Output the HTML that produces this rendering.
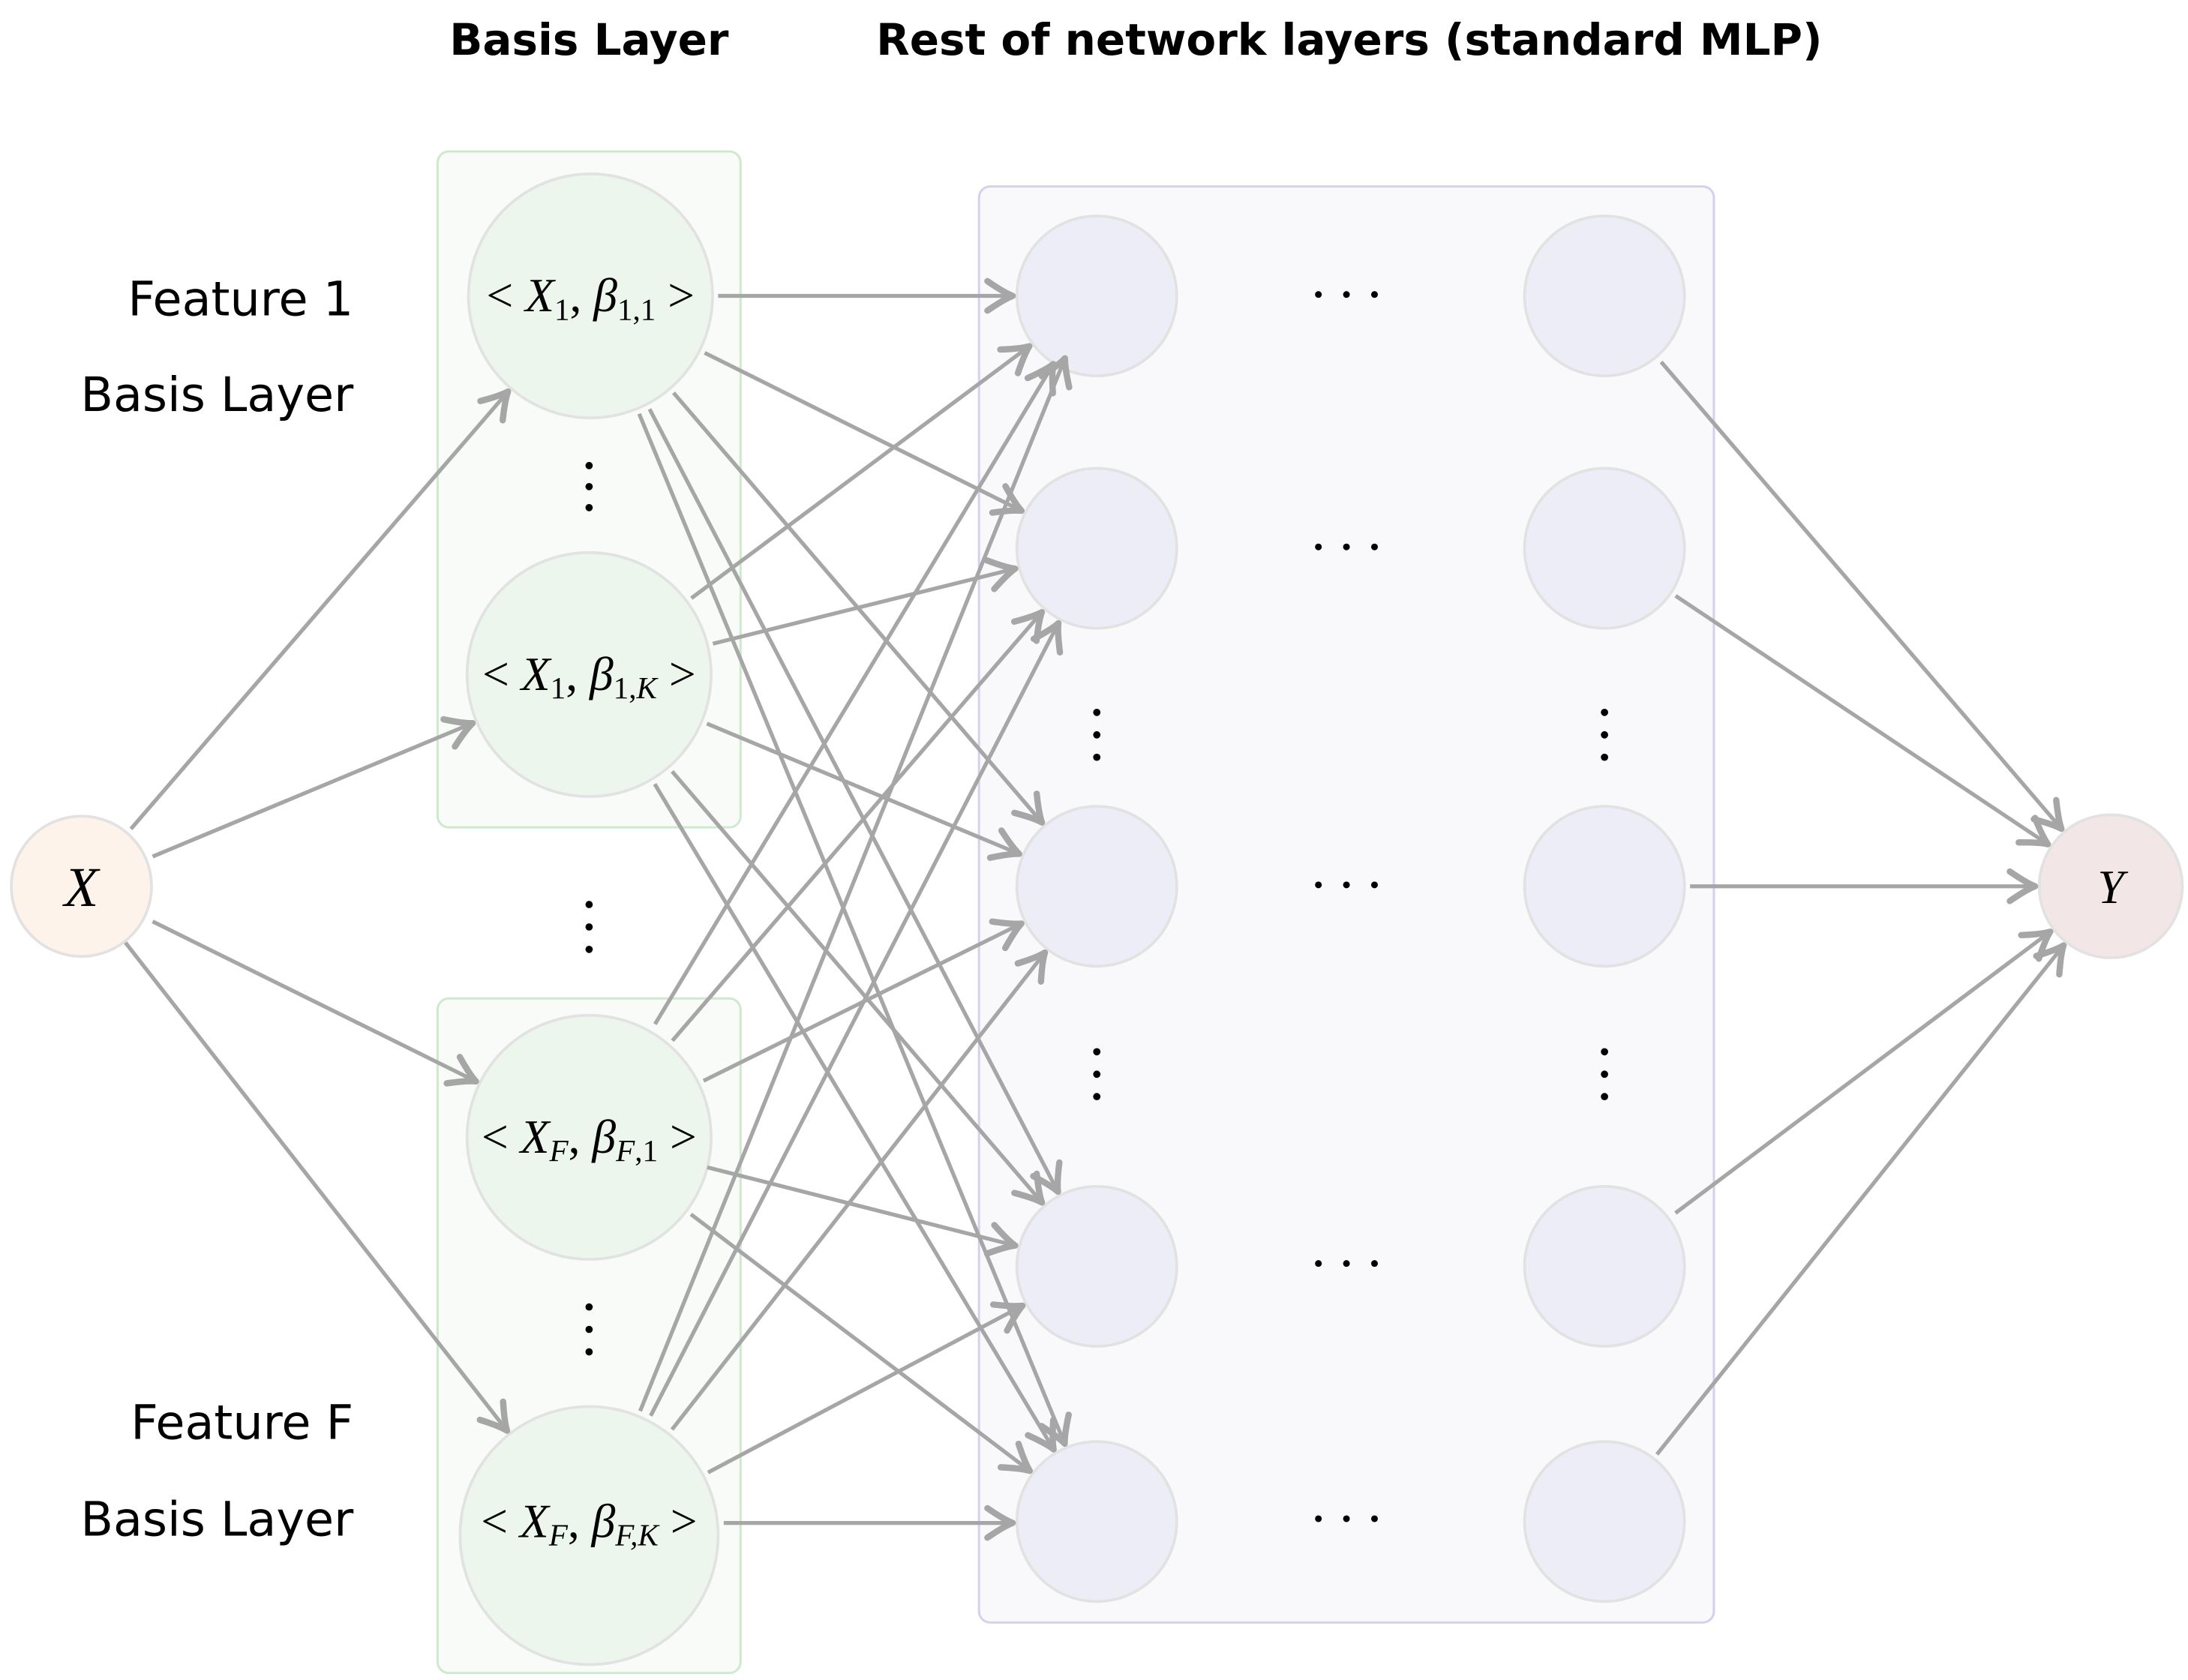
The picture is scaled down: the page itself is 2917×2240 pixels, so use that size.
<!DOCTYPE html>
<html><head><meta charset="utf-8"><style>
html,body{margin:0;padding:0;background:#fff;}
svg{display:block;}
.t{font-family:"DejaVu Sans","Liberation Sans",sans-serif;}
.m{font-family:"Liberation Serif",serif;font-style:italic;}
.r{font-family:"Liberation Serif",serif;font-style:normal;}
</style></head><body>
<svg width="2917" height="2240" viewBox="0 0 1560 1198" xmlns="http://www.w3.org/2000/svg">
<defs>
<marker id="a" markerUnits="userSpaceOnUse" markerWidth="30" markerHeight="30" refX="0" refY="0" viewBox="-16 -10 20 20" orient="auto">
<path d="M-12,-7 Q-4,-1.5 0,0 Q-4,1.5 -12,7" fill="none" stroke="#a6a6a6" stroke-width="3" stroke-linecap="round" stroke-linejoin="round"/>
</marker>
</defs>
<text class="t" x="420" y="39" font-size="31" font-weight="bold" text-anchor="middle">Basis Layer</text>
<text class="t" x="962" y="39" font-size="31" font-weight="bold" text-anchor="middle">Rest of network layers (standard MLP)</text>

<rect x="312" y="108" width="216" height="482" rx="8" fill="#f8fbf8" stroke="#cfe9cf" stroke-width="1.6"/>
<rect x="312" y="712" width="216" height="481" rx="8" fill="#f8fbf8" stroke="#cfe9cf" stroke-width="1.6"/>
<rect x="698" y="133" width="524" height="1024" rx="8" fill="#f9f9fc" stroke="#d2d2ee" stroke-width="1.6"/>

<g class="t" font-size="34" text-anchor="end">
<text x="252" y="225">Feature 1</text>
<text x="252" y="293">Basis Layer</text>
<text x="252" y="1026">Feature F</text>
<text x="252" y="1095">Basis Layer</text>
</g>

<g fill="#edf6ed" stroke="#e2e2e2" stroke-width="2">
<circle cx="421" cy="211" r="87"/>
<circle cx="420" cy="481" r="87"/>
<circle cx="420" cy="811" r="87"/>
<circle cx="420" cy="1095" r="92"/>
</g>
<circle cx="58" cy="632" r="50" fill="#fdf3ea" stroke="#e2e2e2" stroke-width="2"/>
<circle cx="1505" cy="632" r="51" fill="#f3e6e6" stroke="#e2e2e2" stroke-width="2"/>
<g fill="#ededf7" stroke="#e2e2e2" stroke-width="2">
<circle cx="782" cy="211" r="57"/><circle cx="782" cy="391" r="57"/><circle cx="782" cy="632" r="57"/><circle cx="782" cy="903" r="57"/><circle cx="782" cy="1085" r="57"/>
<circle cx="1144" cy="211" r="57"/><circle cx="1144" cy="391" r="57"/><circle cx="1144" cy="632" r="57"/><circle cx="1144" cy="903" r="57"/><circle cx="1144" cy="1085" r="57"/>
</g>

<g fill="#000">
<circle cx="420" cy="332" r="2.6"/><circle cx="420" cy="347" r="2.6"/><circle cx="420" cy="362" r="2.6"/>
<circle cx="420" cy="645" r="2.6"/><circle cx="420" cy="661" r="2.6"/><circle cx="420" cy="677" r="2.6"/>
<circle cx="420" cy="932" r="2.6"/><circle cx="420" cy="948" r="2.6"/><circle cx="420" cy="964" r="2.6"/>
<circle cx="782" cy="508" r="2.6"/><circle cx="782" cy="524" r="2.6"/><circle cx="782" cy="540" r="2.6"/>
<circle cx="1144" cy="508" r="2.6"/><circle cx="1144" cy="524" r="2.6"/><circle cx="1144" cy="540" r="2.6"/>
<circle cx="782" cy="750" r="2.6"/><circle cx="782" cy="766" r="2.6"/><circle cx="782" cy="782" r="2.6"/>
<circle cx="1144" cy="750" r="2.6"/><circle cx="1144" cy="766" r="2.6"/><circle cx="1144" cy="782" r="2.6"/>
<g id="hd"><circle cx="940" cy="210" r="2.4"/><circle cx="960" cy="210" r="2.4"/><circle cx="980" cy="210" r="2.4"/></g>
<use href="#hd" y="180"/><use href="#hd" y="421"/><use href="#hd" y="691"/><use href="#hd" y="873"/>
</g>

<g class="r" font-size="34" text-anchor="middle">
<text x="421" y="222">&lt; <tspan class="m">X</tspan><tspan font-size="22" dy="6">1</tspan><tspan dy="-6">, </tspan><tspan class="m">β</tspan><tspan font-size="22" dy="6">1,1</tspan><tspan dy="-6"> &gt;</tspan></text>
<text x="420" y="492">&lt; <tspan class="m">X</tspan><tspan font-size="22" dy="6">1</tspan><tspan dy="-6">, </tspan><tspan class="m">β</tspan><tspan font-size="22" dy="6">1,<tspan class="m">K</tspan></tspan><tspan dy="-6"> &gt;</tspan></text>
<text x="420" y="822">&lt; <tspan class="m">X</tspan><tspan font-size="22" dy="6" class="m">F</tspan><tspan dy="-6">, </tspan><tspan class="m">β</tspan><tspan font-size="22" dy="6"><tspan class="m">F</tspan>,1</tspan><tspan dy="-6"> &gt;</tspan></text>
<text x="420" y="1096">&lt; <tspan class="m">X</tspan><tspan font-size="22" dy="6" class="m">F</tspan><tspan dy="-6">, </tspan><tspan class="m">β</tspan><tspan font-size="22" dy="6" class="m">F,K</tspan><tspan dy="-6"> &gt;</tspan></text>
<text class="m" x="58" y="646" font-size="40">X</text>
<text class="m" x="1505" y="644" font-size="34">Y</text>
</g>

<g stroke="#a6a6a6" stroke-width="2.8" fill="none" marker-end="url(#a)">
<line x1="93.3" y1="591.1" x2="362.2" y2="279.2"/>
<line x1="108.8" y1="610.8" x2="336.9" y2="515.7"/>
<line x1="108.8" y1="657.1" x2="339.3" y2="771.1"/>
<line x1="89.4" y1="672.2" x2="361.5" y2="1020.2"/>

<line x1="512" y1="211" x2="722" y2="211"/>
<line x1="502.4" y1="251.6" x2="728.3" y2="364.2"/>
<line x1="480.2" y1="280.1" x2="742.9" y2="586.5"/>
<line x1="463.1" y1="291.7" x2="754.3" y2="849.8"/>
<line x1="455.7" y1="295.1" x2="759.1" y2="1029.5"/>

<line x1="492.9" y1="426.6" x2="733.9" y2="246.9"/>
<line x1="508.3" y1="459.0" x2="723.8" y2="405.5"/>
<line x1="504" y1="516" x2="726.6" y2="608.9"/>
<line x1="479.2" y1="550.1" x2="742.9" y2="857.5"/>
<line x1="466.8" y1="559.1" x2="751.2" y2="1033.5"/>

<line x1="467" y1="730.3" x2="751" y2="259.6"/>
<line x1="479.4" y1="742.1" x2="742.8" y2="436.5"/>
<line x1="501.6" y1="770.7" x2="728.2" y2="658.6"/>
<line x1="504.3" y1="832.4" x2="723.8" y2="888.2"/>
<line x1="492.6" y1="865.9" x2="734.2" y2="1048.8"/>

<line x1="456.4" y1="1006.2" x2="759.3" y2="255.5"/>
<line x1="463.9" y1="1009.6" x2="754.6" y2="444.4"/>
<line x1="479.1" y1="1019.4" x2="745" y2="679.3"/>
<line x1="504.8" y1="1050" x2="729" y2="931.1"/>
<line x1="516" y1="1086" x2="722" y2="1086"/>

<line x1="1184.4" y1="258.1" x2="1469.8" y2="591"/>
<line x1="1194.7" y1="424.9" x2="1460.1" y2="602"/>
<line x1="1205" y1="632" x2="1451" y2="632"/>
<line x1="1194.6" y1="865" x2="1461.8" y2="664.4"/>
<line x1="1181.4" y1="1037.1" x2="1471.3" y2="674.2"/>
</g>
</svg>
</body></html>
